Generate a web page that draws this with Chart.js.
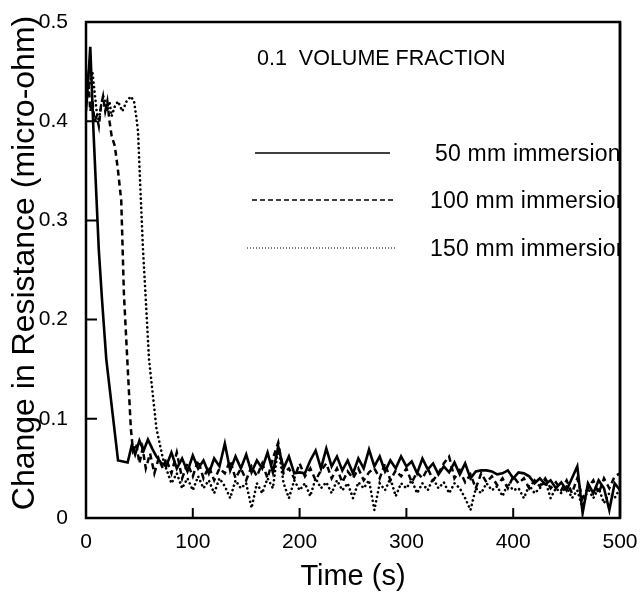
<!DOCTYPE html>
<html><head><meta charset="utf-8">
<script src="https://cdn.jsdelivr.net/npm/chart.js@4/dist/chart.umd.min.js"></script>
<style>html,body{margin:0;padding:0;background:#fff}</style>
</head><body>
<canvas id="c" width="641" height="598"></canvas>
<script>
// ---- data ----
const titleText = "0.1  VOLUME FRACTION";
const yTitle = "Change in Resistance (micro-ohm)";
const xTitle = "Time (s)";
const seriesNames = ["50 mm immersion", "100 mm immersion", "150 mm immersion"];
const xTickValues = [0, 100, 200, 300, 400, 500];
const yTickValues = [0, 0.1, 0.2, 0.3, 0.4, 0.5];

// early (transient) part of each curve
const headT50 = [0, 2, 4, 7, 12, 15, 19, 30, 39, 43, 46, 50, 54, 58, 62, 66, 70];
const headV50 = [0.41, 0.44, 0.475, 0.39, 0.27, 0.22, 0.16, 0.058, 0.056, 0.074, 0.064, 0.078, 0.068, 0.079, 0.07, 0.062, 0.056];

const headT100 = [0, 2, 4, 6, 8, 10, 12, 14, 16, 18, 20, 22, 24, 27, 30, 33, 35.5, 42, 44, 47, 50, 53, 56, 60, 64, 68, 72];
const headV100 = [0.43, 0.445, 0.41, 0.42, 0.40, 0.405, 0.395, 0.415, 0.425, 0.41, 0.42, 0.40, 0.385, 0.375, 0.35, 0.32, 0.226, 0.09, 0.068, 0.075, 0.055, 0.07, 0.05, 0.065, 0.045, 0.06, 0.05];

const headT150 = [0, 2, 4, 6, 8, 10, 12, 14, 16, 18, 20, 22, 24, 27, 30, 34, 38, 42, 45, 47, 48.7, 51, 53.4, 56, 59, 63, 66, 69, 72];
const headV150 = [0.42, 0.43, 0.44, 0.45, 0.43, 0.41, 0.40, 0.415, 0.425, 0.42, 0.41, 0.42, 0.405, 0.415, 0.42, 0.41, 0.42, 0.425, 0.42, 0.405, 0.39, 0.33, 0.27, 0.22, 0.16, 0.12, 0.09, 0.075, 0.06];

// steady (noisy) part, sampled every 5 s from 75 s to 500 s
const tailStart = 75, tailStep = 5;
const tailV50 = [
 0.052,0.066,0.050,0.060,0.047,0.063,0.050,0.058,0.045,0.060,
 0.052,0.075,0.048,0.062,0.050,0.064,0.046,0.058,0.050,0.066,
 0.046,0.072,0.050,0.062,0.045,0.046,0.045,0.058,0.068,0.050,
 0.070,0.052,0.062,0.048,0.058,0.045,0.060,0.050,0.069,0.052,
 0.062,0.047,0.058,0.050,0.062,0.052,0.057,0.045,0.060,0.049,
 0.055,0.044,0.052,0.046,0.056,0.044,0.055,0.040,0.047,0.048,
 0.048,0.047,0.044,0.045,0.048,0.040,0.046,0.045,0.042,0.035,
 0.040,0.034,0.038,0.030,0.036,0.028,0.040,0.052,0.005,0.035,
 0.025,0.038,0.030,0.008,0.035,0.028];
const tailV100 = [
 0.060,0.045,0.066,0.040,0.055,0.042,0.058,0.040,0.052,0.038,
 0.050,0.045,0.058,0.040,0.050,0.038,0.052,0.042,0.055,0.040,
 0.060,0.076,0.045,0.050,0.040,0.055,0.042,0.050,0.038,0.048,
 0.055,0.040,0.050,0.036,0.047,0.040,0.050,0.038,0.046,0.050,
 0.040,0.055,0.038,0.048,0.042,0.050,0.036,0.046,0.040,0.050,
 0.038,0.045,0.055,0.062,0.040,0.048,0.036,0.044,0.030,0.045,
 0.036,0.042,0.033,0.040,0.030,0.042,0.035,0.040,0.030,0.038,
 0.032,0.040,0.030,0.036,0.028,0.038,0.025,0.040,0.020,0.030,
 0.038,0.025,0.040,0.030,0.042,0.045];
const tailV150 = [
 0.050,0.035,0.045,0.030,0.040,0.028,0.042,0.030,0.038,0.025,
 0.040,0.032,0.020,0.038,0.030,0.035,0.010,0.035,0.025,0.040,
 0.030,0.072,0.035,0.020,0.038,0.028,0.035,0.022,0.040,0.030,
 0.036,0.025,0.038,0.028,0.035,0.020,0.036,0.030,0.038,0.008,
 0.035,0.028,0.040,0.022,0.035,0.030,0.038,0.025,0.035,0.028,
 0.040,0.030,0.036,0.025,0.035,0.030,0.020,0.008,0.030,0.025,
 0.035,0.028,0.032,0.022,0.035,0.028,0.030,0.020,0.033,0.025,
 0.030,0.038,0.020,0.030,0.025,0.032,0.020,0.028,0.010,0.030,
 0.020,0.030,0.015,0.025,0.020,0.030];

// ---- build points ----
function build(headT, headV, tailV) {
  const pts = headT.map((t, i) => ({x: t, y: headV[i]}));
  tailV.forEach((v, i) => pts.push({x: tailStart + i * tailStep, y: v}));
  return pts;
}

const FONT = "'Liberation Sans', Arial, Helvetica, sans-serif";
Chart.defaults.font.family = FONT;
Chart.defaults.color = '#000';

const frame = {
  id: 'frame',
  afterDatasetsDraw(chart) {
    const {ctx, chartArea: a, scales} = chart;
    ctx.save();
    ctx.strokeStyle = '#000';
    ctx.lineWidth = 2.5;
    ctx.strokeRect(a.left, a.top, a.right - a.left, a.bottom - a.top);
    ctx.lineWidth = 2;
    ctx.beginPath();
    [0.1, 0.2, 0.3, 0.4].forEach(v => {
      const y = scales.y.getPixelForValue(v);
      ctx.moveTo(a.left, y); ctx.lineTo(a.left + 11, y);
    });
    [100, 200, 300, 400].forEach(v => {
      const x = scales.x.getPixelForValue(v);
      ctx.moveTo(x, a.bottom); ctx.lineTo(x, a.bottom - 10);
    });
    ctx.stroke();
    ctx.restore();
  },
  afterDraw(chart) {
    const {ctx, chartArea: a} = chart;
    ctx.save();
    ctx.fillStyle = '#000';
    // y axis title
    ctx.save();
    ctx.translate(25, 263);
    ctx.rotate(-Math.PI / 2);
    ctx.textAlign = 'center';
    ctx.textBaseline = 'middle';
    ctx.font = "32px " + FONT;
    ctx.fillText(yTitle, 0, 0);
    ctx.restore();

    ctx.textBaseline = 'middle';
    ctx.font = "21.5px " + FONT;
    ctx.fillText(titleText, 257, 59);
    // legend lines
    const rows = [
      {y: 153, x0: 255, x1: 390, dash: [], w: 1.6, tx: 435},
      {y: 200, x0: 252, x1: 395, dash: [5, 3], w: 1.5, tx: 430},
      {y: 248, x0: 247, x1: 397, dash: [1, 2], w: 1, tx: 430}
    ];
    ctx.strokeStyle = '#000';
    rows.forEach(r => {
      ctx.beginPath();
      ctx.setLineDash(r.dash);
      ctx.lineWidth = r.w;
      ctx.moveTo(r.x0, r.y); ctx.lineTo(r.x1, r.y);
      ctx.stroke();
    });
    ctx.setLineDash([]);
    ctx.beginPath();
    ctx.rect(0, 0, a.right, chart.height);
    ctx.clip();
    ctx.font = "23px " + FONT;
    ctx.letterSpacing = '0.2px';
    rows.forEach((r, i) => ctx.fillText(seriesNames[i], r.tx, r.y + 2));
    ctx.restore();
    ctx.save();
    ctx.strokeStyle = '#000';
    ctx.lineWidth = 2.5;
    ctx.beginPath();
    ctx.moveTo(a.right, a.top); ctx.lineTo(a.right, a.bottom);
    ctx.stroke();
    ctx.restore();
  }
};

new Chart(document.getElementById('c'), {
  type: 'line',
  data: {
    datasets: [
      {label: seriesNames[0], data: build(headT50, headV50, tailV50), borderColor: '#000', borderWidth: 2.6, pointRadius: 0, tension: 0},
      {label: seriesNames[1], data: build(headT100, headV100, tailV100), borderColor: '#000', borderWidth: 2.5, borderDash: [6, 4], pointRadius: 0, tension: 0},
      {label: seriesNames[2], data: build(headT150, headV150, tailV150), borderColor: '#000', borderWidth: 2.6, borderDash: [0.1, 4.5], borderCapStyle: 'round', pointRadius: 0, tension: 0}
    ]
  },
  options: {
    responsive: false,
    animation: false,
    devicePixelRatio: 1,
    layout: {padding: {left: 0, top: 22, right: 21, bottom: 0}},
    plugins: {legend: {display: false}, tooltip: {enabled: false}},
    scales: {
      x: {
        type: 'linear', min: 0, max: 500,
        afterBuildTicks: s => { s.ticks = xTickValues.map(v => ({value: v})); },
        grid: {display: false, drawTicks: false}, border: {display: false},
        ticks: {font: {size: 21}, color: '#000', padding: 12, maxRotation: 0, callback: v => String(v)},
        title: {display: true, text: xTitle, font: {size: 29}, color: '#000', padding: {top: 0, bottom: 4}},
        afterFit: s => { s.height = 80; s.paddingLeft = 0; s.paddingRight = 0; }
      },
      y: {
        type: 'linear', min: 0, max: 0.5,
        afterBuildTicks: s => { s.ticks = yTickValues.map(v => ({value: v})); },
        grid: {display: false, drawTicks: false}, border: {display: false},
        ticks: {font: {size: 21}, color: '#000', padding: 18, callback: v => v === 0 ? '0' : v.toFixed(1)},
        afterFit: s => { s.width = 86; s.paddingTop = 0; s.paddingBottom = 0; }
      }
    }
  },
  plugins: [frame]
});
</script>
</body></html>
